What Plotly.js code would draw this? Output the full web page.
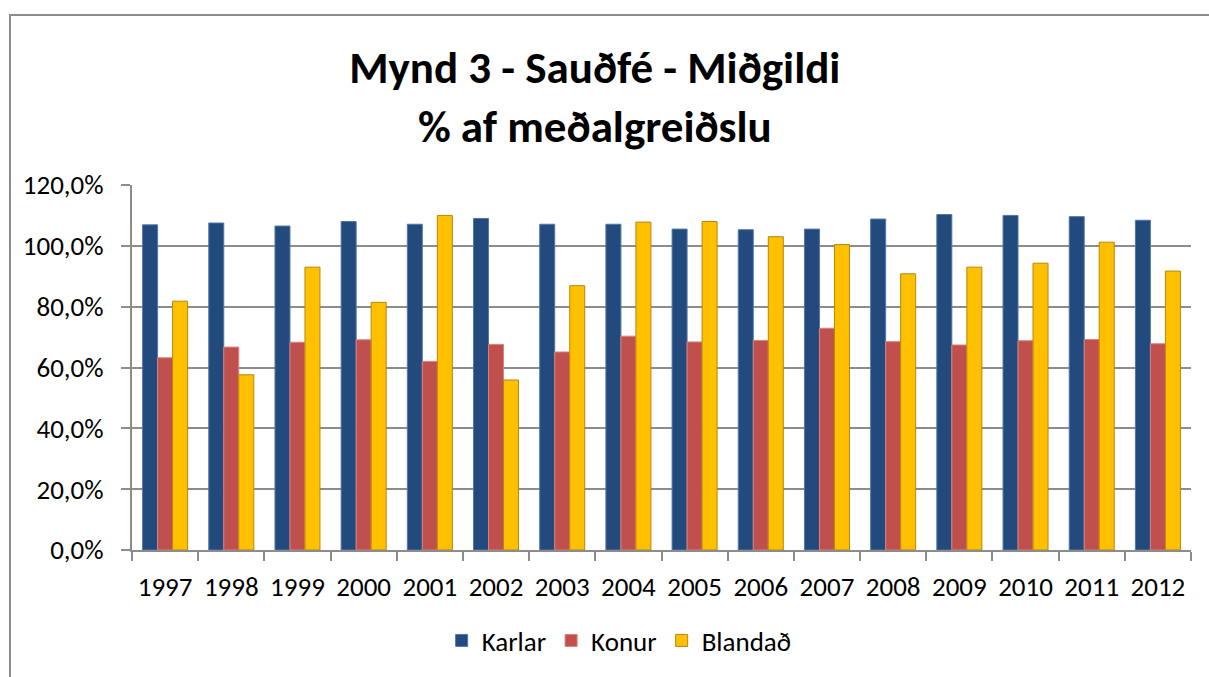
<!DOCTYPE html>
<html>
<head>
<meta charset="utf-8">
<script src="https://cdn.plot.ly/plotly-3.0.1.min.js"></script>
<style>
html, body { margin: 0; padding: 0; background: #fff; }
#wrap { position: relative; width: 1209px; height: 677px; overflow: hidden; }
#chart { position: absolute; left: 0; top: 0; width: 1209px; height: 677px; }
#frame { position: absolute; left: 9px; top: 14px; width: 1300px; height: 800px;
  border-top: 2px solid #8c8c8c; border-left: 2px solid #8c8c8c; pointer-events: none; }
</style>
</head>
<body>
<div id="wrap">
<div id="chart"></div>
<div id="frame"></div>
</div>
<script>
const years = ['1997','1998','1999','2000','2001','2002','2003','2004','2005','2006','2007','2008','2009','2010','2011','2012'];
const karlar = [106.9, 107.5, 106.5, 108.0, 107.1, 109.0, 107.1, 107.1, 105.5, 105.3, 105.5, 108.8, 110.3, 110.0, 109.6, 108.4];
const konur = [63.2, 66.7, 68.3, 69.1, 62.0, 67.6, 65.1, 70.3, 68.4, 68.9, 72.9, 68.5, 67.4, 68.8, 69.2, 67.8];
const blandad = [81.8, 57.6, 93.0, 81.4, 110.0, 55.9, 86.9, 107.8, 108.0, 103.0, 100.4, 90.8, 93.0, 94.3, 101.2, 91.7];
const yTicks = [0, 20, 40, 60, 80, 100, 120];
const yTickText = ['0,0%', '20,0%', '40,0%', '60,0%', '80,0%', '100,0%', '120,0%'];

const FONT = 'Carlito, Lato, "Liberation Sans", sans-serif';
const FS = 27;

function bar(name, y, color, line) {
  return {
    type: 'bar', name: name, x: years, y: y,
    marker: { color: color, line: { color: line, width: 1 } },
    hoverinfo: 'x+y+name'
  };
}

const data = [
  bar('Karlar', karlar, '#234A7D', '#4F77AE'),
  bar('Konur', konur, '#C0504D', '#D9827F'),
  bar('Blandað', blandad, '#FFC000', '#B8860B')
];

const layout = {
  width: 1209, height: 677,
  margin: { l: 132, r: 18, t: 185, b: 122 },
  paper_bgcolor: '#ffffff', plot_bgcolor: '#ffffff',
  font: { family: FONT, size: FS, color: '#000' },
  title: {
    text: '<b>Mynd 3 - Sauðfé - Miðgildi<br>% af meðalgreiðslu</b>',
    font: { family: FONT, size: 45, color: '#000' },
    xref: 'container', x: 0.492, xanchor: 'center',
    yref: 'container', y: 0.877, yanchor: 'middle'
  },
  barmode: 'group', bargap: 0.32, bargroupgap: 0,
  xaxis: {
    type: 'category',
    showline: true, linecolor: '#8c8c8c', linewidth: 2,
    ticks: 'outside', tickson: 'boundaries', ticklen: 9, tickcolor: '#8c8c8c', tickwidth: 2,
    showgrid: false, zeroline: false, ticklabelstandoff: 12,
    tickfont: { family: FONT, size: FS, color: '#000' }
  },
  yaxis: {
    range: [0, 120], tickmode: 'array', tickvals: yTicks, ticktext: yTickText,
    showline: true, linecolor: '#8c8c8c', linewidth: 2,
    ticks: 'outside', ticklen: 9, tickcolor: '#8c8c8c', tickwidth: 2,
    showgrid: true, gridcolor: '#8c8c8c', gridwidth: 2,
    zeroline: false, ticklabelstandoff: 12,
    tickfont: { family: FONT, size: FS, color: '#000' }
  },
  showlegend: true,
  legend: {
    orientation: 'h', x: 0.46, xanchor: 'center', y: -0.249, yanchor: 'middle',
    font: { family: FONT, size: FS, color: '#000' },
    itemwidth: 30, tracegroupgap: 0, traceorder: 'normal'
  }
};

Plotly.newPlot('chart', data, layout, { displayModeBar: false, staticPlot: true });
</script>
</body>
</html>
